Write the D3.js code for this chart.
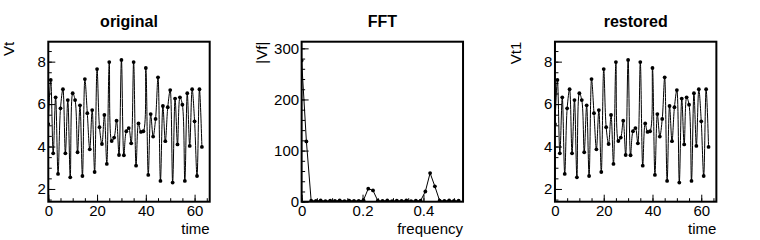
<!DOCTYPE html>
<html>
<head>
<meta charset="utf-8">
<script src="https://cdn.jsdelivr.net/npm/d3@7"></script>
<style>
body { margin: 0; background: #fff; }
svg { display: block; }
text { font-family: "Liberation Sans", Arial, sans-serif; fill: #000; }
</style>
</head>
<body>
<div id="chart"></div>
<script>
// sample index (time) and signal
const time = d3.range(64);
const vt = [5.06, 7.14, 3.68, 6.32, 2.71, 5.80, 6.70, 3.68,
            6.19, 2.55, 6.51, 6.19, 3.73, 5.94, 2.61, 7.18,
            5.57, 3.87, 5.72, 2.80, 7.65, 4.91, 4.12, 5.49,
            3.18, 7.98, 4.26, 4.42, 5.22, 3.60, 8.08, 3.59,
            4.72, 4.87, 4.15, 7.98, 3.10, 5.09, 4.69, 4.72,
            7.70, 2.66, 5.53, 4.47, 5.30, 7.26, 2.38, 5.91,
            4.25, 5.85, 6.66, 2.30, 6.26, 4.10, 6.32, 5.97,
            2.38, 6.51, 4.03, 6.70, 5.19, 2.61, 6.70, 3.98];

// spectrum magnitude, bins k/64
const freq = d3.range(34).map(k => k / 64);
const vf = [276, 118, 2.0, 1.5, 2.4, 1.2, 2.0, 1.4,
            2.6, 1.3, 2.2, 1.6, 1.8, 3.0, 25.5, 22.0,
            2.0, 1.4, 2.3, 1.2, 2.1, 1.5, 2.4, 1.3,
            1.9, 2.0, 20.0, 56.0, 30.0, 2.0, 1.6, 2.3,
            1.4, 2.0];

// restored signal (inverse FFT)
const vt1 = [5.06, 7.14, 3.68, 6.32, 2.71, 5.80, 6.70, 3.68,
             6.19, 2.55, 6.51, 6.19, 3.73, 5.94, 2.61, 7.18,
             5.57, 3.87, 5.72, 2.80, 7.65, 4.91, 4.12, 5.49,
             3.18, 7.98, 4.26, 4.42, 5.22, 3.60, 8.08, 3.59,
             4.72, 4.87, 4.15, 7.98, 3.10, 5.09, 4.69, 4.72,
             7.70, 2.66, 5.53, 4.47, 5.30, 7.26, 2.38, 5.91,
             4.25, 5.85, 6.66, 2.30, 6.26, 4.10, 6.32, 5.97,
             2.38, 6.51, 4.03, 6.70, 5.19, 2.61, 6.70, 3.98];

const W = 760, H = 240, padW = W / 3;
const fx0 = 48.3, fx1 = 209.7, fy0 = 41.7, fy1 = 201.7;

const panels = [
  { title: "original", xs: time, ys: vt, xlab: "time", ylab: "Vt",
    xdom: [0, 66.2], ydom: [1.4, 8.94], xmaj: 20, xmin: 5, ymaj: 2, ymin: 0.5,
    curve: d3.curveCatmullRom.alpha(0.5) },
  { title: "FFT", xs: freq, ys: vf, xlab: "frequency", ylab: "|Vf|",
    xdom: [0, 0.53], ydom: [0, 313], xmaj: 0.2, xmin: 0.05, ymaj: 100, ymin: 20,
    curve: d3.curveLinear },
  { title: "restored", xs: time, ys: vt1, xlab: "time", ylab: "Vt1",
    xdom: [0, 66.2], ydom: [1.4, 8.94], xmaj: 20, xmin: 5, ymaj: 2, ymin: 0.5,
    curve: d3.curveCatmullRom.alpha(0.5) }
];

function steps(dom, step) {
  const out = [];
  const n = Math.floor(dom[1] / step + 1e-9);
  for (let i = Math.ceil(dom[0] / step - 1e-9); i <= n; i++) out.push(+(i * step).toFixed(6));
  return out;
}

const svg = d3.select("#chart").append("svg")
  .attr("width", W).attr("height", H);

panels.forEach((p, i) => {
  const g = svg.append("g").attr("transform", `translate(${i * padW},0)`);
  const x = d3.scaleLinear().domain(p.xdom).range([fx0, fx1]);
  const y = d3.scaleLinear().domain(p.ydom).range([fy1, fy0]);
  const fmt = d3.format("~g");

  // minor ticks
  g.append("g").attr("transform", `translate(0,${fy1})`)
    .call(d3.axisBottom(x).tickValues(steps(p.xdom, p.xmin)).tickSize(-3.5).tickFormat(""))
    .call(a => a.select(".domain").remove());
  g.append("g").attr("transform", `translate(${fx0},0)`)
    .call(d3.axisLeft(y).tickValues(steps(p.ydom, p.ymin)).tickSize(-3.5).tickFormat(""))
    .call(a => a.select(".domain").remove());

  // major ticks + labels
  const xa = g.append("g").attr("transform", `translate(0,${fy1})`)
    .call(d3.axisBottom(x).tickValues(steps(p.xdom, p.xmaj)).tickSize(-7).tickPadding(4).tickFormat(fmt));
  const ya = g.append("g").attr("transform", `translate(${fx0},0)`)
    .call(d3.axisLeft(y).tickValues(steps(p.ydom, p.ymaj)).tickSize(-7).tickPadding(2.5).tickFormat(fmt));
  [xa, ya].forEach(a => {
    a.select(".domain").remove();
    a.selectAll("text").attr("font-size", 15).attr("font-family", null);
  });
  g.selectAll(".tick line").attr("stroke", "#000");

  // clip for data
  const cid = "clip" + i;
  g.append("clipPath").attr("id", cid)
    .append("rect").attr("x", fx0).attr("y", fy0).attr("width", fx1 - fx0).attr("height", fy1 - fy0);

  const pts = p.xs.map((v, k) => [v, p.ys[k]]);
  const line = d3.line().x(d => x(d[0])).y(d => y(d[1])).curve(p.curve);
  const data = g.append("g").attr("clip-path", `url(#${cid})`);
  data.append("path").datum(pts)
    .attr("d", line).attr("fill", "none").attr("stroke", "#000").attr("stroke-width", 1);
  data.selectAll("circle").data(pts).join("circle")
    .attr("cx", d => x(d[0])).attr("cy", d => y(d[1])).attr("r", 1.9).attr("fill", "#000");

  // frame
  g.append("rect").attr("x", fx0).attr("y", fy0)
    .attr("width", fx1 - fx0).attr("height", fy1 - fy0)
    .attr("fill", "none").attr("stroke", "#000").attr("stroke-width", 2);

  // titles
  g.append("text").attr("x", (fx0 + fx1) / 2).attr("y", 27)
    .attr("text-anchor", "middle").attr("font-size", 16).attr("font-weight", "bold")
    .text(p.title);
  g.append("text").attr("x", fx1).attr("y", 233.5)
    .attr("text-anchor", "end").attr("font-size", 15).text(p.xlab);
  g.append("text").attr("transform", `translate(14,${fy0}) rotate(-90)`)
    .attr("text-anchor", "end").attr("font-size", 15).text(p.ylab);
});
</script>
</body>
</html>
